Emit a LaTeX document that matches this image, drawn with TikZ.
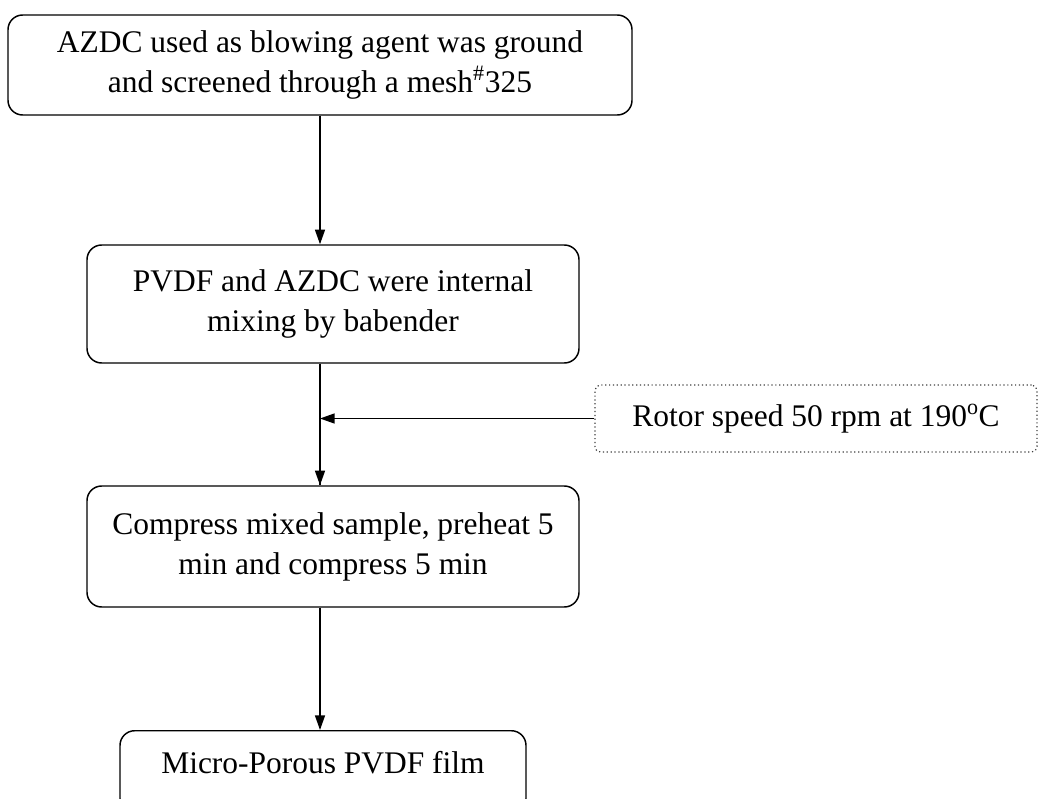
\documentclass[tikz,border=0pt]{standalone}
\usepackage{fontspec}
\setmainfont{Liberation Serif}
\usetikzlibrary{arrows.meta}
\tikzset{
  stepbox/.style={draw, rounded corners=11pt, line width=1.1pt, align=center, inner sep=0pt,
    font=\fontsize{23.6}{30}\selectfont},
  notebox/.style={draw=black!75, dotted, rounded corners=4pt, line width=0.9pt, align=center, inner sep=0pt,
    font=\fontsize{23.6}{30}\selectfont},
  arr/.style={line width=1.1pt, -{Triangle[length=11pt,width=7.5pt]}}
}
\begin{document}
\begin{tikzpicture}[x=0.75pt,y=-0.75pt]
\useasboundingbox (0,0) rectangle (1040,799);
\clip (0,0) rectangle (1040,799);
\node[stepbox, minimum width=468pt, minimum height=75pt] (b1) at (320,65)
  {AZDC used as blowing agent was ground\\and screened through a mesh\textsuperscript{\#}325};
\node[stepbox, minimum width=369pt, minimum height=88.5pt] (b2) at (333,304)
  {PVDF and AZDC were internal\\mixing by babender};
\node[notebox, minimum width=331.5pt, minimum height=50.25pt] (rot) at (816,418.5)
  {Rotor speed 50 rpm at 190\textsuperscript{o}C};
\node[stepbox, minimum width=369pt, minimum height=90.75pt] (b3) at (333,546.5)
  {Compress mixed sample, preheat 5\\min and compress 5 min};
\node[stepbox, anchor=north, minimum width=304.5pt, text height=32pt, text depth=30pt] (b4) at (323,730)
  {Micro-Porous PVDF film};
\coordinate (j) at (320,418.5);
\draw[arr] (b1.south) -- (b1.south |- b2.north);
\draw[line width=1.1pt] (b1.south |- b2.south) -- (b1.south |- b3.north);
\draw[arr] (b1.south |- b2.south) -- (b1.south |- b3.north);
\draw[arr] (rot.west) -- (j);
\draw[arr] (b1.south |- b3.south) -- (b1.south |- b4.north);
\end{tikzpicture}
\end{document}
